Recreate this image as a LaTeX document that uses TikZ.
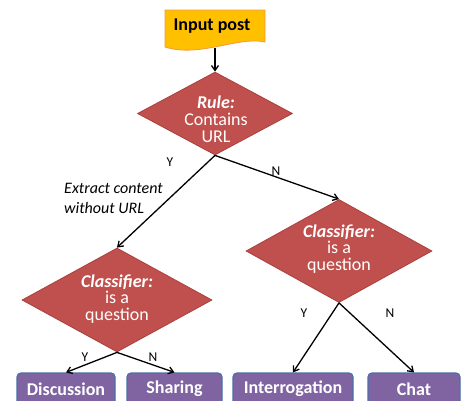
\documentclass[tikz,border=0pt]{standalone}
\usepackage{fontspec}
\setmainfont{Carlito}
\usetikzlibrary{shapes.geometric,arrows.meta}
\definecolor{dred}{HTML}{C0504D}
\definecolor{dredb}{HTML}{A9403D}
\definecolor{bpur}{HTML}{8064A2}
\definecolor{bpurb}{HTML}{4A6FA5}
\definecolor{ipost}{HTML}{FFC000}
\definecolor{ipostb}{HTML}{F79646}
\tikzset{
  dia/.style={diamond, draw=dredb, fill=dred, line width=0.8pt, inner sep=0pt},
  diatext/.style={text=white, align=center, font=\fontsize{18}{16.8}\selectfont, inner sep=0pt},
  leaf/.style={rectangle, rounded corners=4pt, draw=bpurb, fill=bpur, line width=1.2pt, text=white, font=\fontsize{18}{20}\selectfont\bfseries, minimum height=32pt, inner sep=0pt},
  conn/.style={line width=1.3pt, -{Straight Barb[length=5pt,width=7pt]}},
  lbl/.style={font=\fontsize{13.5}{15}\selectfont, inner sep=0pt},
}
\begin{document}
\begin{tikzpicture}[x=1pt,y=-1pt]
\useasboundingbox (0,0) rectangle (461,400);
\clip (0,0) rectangle (461,400);
% Input post (document shape)
\draw[fill=ipost, draw=ipostb, line width=0.8pt]
  (165,10) -- (265,10) -- (265,42) .. controls (238,36) and (200,58) .. (165,47) -- cycle;
\node[font=\fontsize{18}{20}\selectfont\bfseries, inner sep=0pt] (inp) at (212,26) {Input post};
\coordinate (inpb) at (215,48);
% diamonds
\node[dia, minimum width=155pt, minimum height=83pt] (rule) at (215,113.5) {};
\node[diatext] (rulet) at (216,119) {\textbf{\textit{Rule:}}\\Contains\\URL};
\node[dia, minimum width=190pt, minimum height=104pt] (cl) at (117,300) {};
\node[diatext] (clt) at (117,299) {\textbf{\textit{Classifier:}}\\is a\\question};
\node[dia, minimum width=186pt, minimum height=103pt] (cr) at (339,251) {};
\node[diatext] (crt) at (339,249) {\textbf{\textit{Classifier:}}\\is a\\question};
% leaves
\node[leaf, minimum width=98pt] (disc) at (66,389) {Discussion};
\node[leaf, minimum width=95pt] (shar) at (174.5,389) {Sharing};
\node[leaf, minimum width=120pt] (inter) at (293,389) {Interrogation};
\node[leaf, minimum width=92pt] (chat) at (414,389) {Chat};
% connectors
\draw[conn] (inpb) -- (rule.north);
\draw[conn] (rule.south) -- (cl.north);
\draw[conn] (rule.south) -- (cr.north);
\draw[conn] (cl.south) -- (disc.north);
\draw[conn] (cl.south) -- (shar.north);
\draw[conn] (cr.south) -- (inter.north);
\draw[conn] (cr.south) -- (chat.north);
% labels
\node[lbl] (y1) at (170,162) {Y};
\node[lbl] (n1) at (276,171) {N};
\node[font=\fontsize{16}{20}\selectfont\itshape, align=left, anchor=west, inner sep=0pt] (ext) at (64,198) {Extract content\\without URL};
\node[lbl] (y2) at (85,357) {Y};
\node[lbl] (n2) at (153,357) {N};
\node[lbl] (y3) at (304,313) {Y};
\node[lbl] (n3) at (390,313) {N};
\end{tikzpicture}
\end{document}
